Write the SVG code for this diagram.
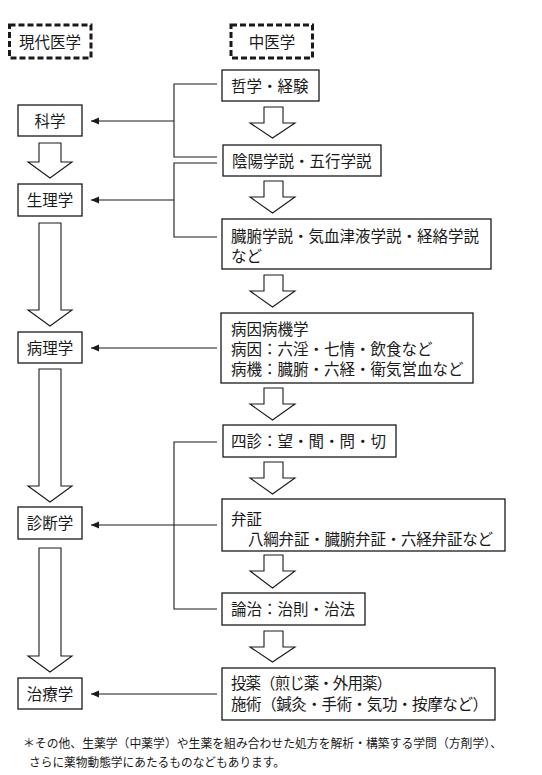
<svg xmlns="http://www.w3.org/2000/svg" width="542" height="775" viewBox="0 0 542 775">
<defs>
<style>
text{font-family:"Noto Sans CJK JP","Noto Sans",sans-serif;font-size:15.5px;fill:#1a1a1a}
.c{text-anchor:middle}
.box{fill:#fff;stroke:#1a1a1a;stroke-width:1.3}
.dash{fill:none;stroke:#1a1a1a;stroke-width:3;stroke-dasharray:6 3}
.ln{fill:none;stroke:#1a1a1a;stroke-width:1.1}
.ha{fill:#fff;stroke:#1a1a1a;stroke-width:1.1;stroke-linejoin:miter}
.fn{font-size:12px}
</style>
<marker id="ah" markerUnits="userSpaceOnUse" markerWidth="9" markerHeight="8" refX="8" refY="3.5" orient="auto">
<path d="M0,0 L8,3.5 L0,7 z" fill="#1a1a1a"/>
</marker>
</defs>
<rect width="542" height="775" fill="#fff"/>

<g id="hdr-modern"><rect class="dash" x="9.5" y="25" width="81.5" height="33"/><text class="c" x="50" y="48">現代医学</text></g>
<g id="hdr-tcm"><rect class="dash" x="231" y="25" width="81.5" height="33"/><text class="c" x="272" y="48">中医学</text></g>

<g id="connectors">
<path class="ln" d="M217,84 H174 V157 H217"/>
<path class="ln" d="M217,163 H174 V237 H217"/>
<path class="ln" d="M217,442 H174 V609 H217"/>
<line class="ln" x1="174" y1="121" x2="91" y2="121" marker-end="url(#ah)"/>
<line class="ln" x1="174" y1="200" x2="91" y2="200" marker-end="url(#ah)"/>
<line class="ln" x1="217" y1="348" x2="91" y2="348" marker-end="url(#ah)"/>
<line class="ln" x1="217" y1="525" x2="91" y2="525" marker-end="url(#ah)"/>
<line class="ln" x1="217" y1="694" x2="91" y2="694" marker-end="url(#ah)"/>
<polygon class="ha" points="39,143 61,143 61,162 72,162 50,178 28,162 39,162"/>
<polygon class="ha" points="39,223 61,223 61,310 72,310 50,326 28,310 39,310"/>
<polygon class="ha" points="39,369 61,369 61,486 72,486 50,502 28,486 39,486"/>
<polygon class="ha" points="39,548 61,548 61,656 72,656 50,672 28,656 39,656"/>
<polygon class="ha" points="264,107 283,107 283,123 295,123 272.5,138 250,123 264,123"/>
<polygon class="ha" points="264,181 283,181 283,197 295,197 272.5,213 250,197 264,197"/>
<polygon class="ha" points="264,275 283,275 283,291 295,291 272.5,307 250,291 264,291"/>
<polygon class="ha" points="264,388 283,388 283,404 295,404 272.5,420 250,404 264,404"/>
<polygon class="ha" points="264,462 283,462 283,478 295,478 272.5,494 250,478 264,478"/>
<polygon class="ha" points="264,555 283,555 283,571 295,571 272.5,588 250,571 264,571"/>
<polygon class="ha" points="264,631 283,631 283,647 295,647 272.5,662 250,647 264,647"/>
</g>

<g id="n-kagaku"><rect class="box" x="18" y="105" width="64" height="31"/><text class="c" x="50" y="126.5">科学</text></g>
<g id="n-seiri"><rect class="box" x="18" y="184" width="64" height="32"/><text class="c" x="50" y="206">生理学</text></g>
<g id="n-byouri"><rect class="box" x="18" y="332" width="64" height="31"/><text class="c" x="50" y="353.5">病理学</text></g>
<g id="n-shindan"><rect class="box" x="18" y="507" width="64" height="32"/><text class="c" x="50" y="529">診断学</text></g>
<g id="n-chiryou"><rect class="box" x="18" y="678" width="64" height="31"/><text class="c" x="50" y="699.5">治療学</text></g>

<g id="n-tetsugaku"><rect class="box" x="222" y="70" width="97" height="31"/><text x="231" y="91.5">哲学・経験</text></g>
<g id="n-inyou"><rect class="box" x="223" y="145" width="158" height="31"/><text x="232" y="166.5">陰陽学説・五行学説</text></g>
<g id="n-zoufu"><rect class="box" x="222" y="219" width="269" height="50"/><text x="231" y="242">臓腑学説・気血津液学説・経絡学説</text><text x="231" y="262">など</text></g>
<g id="n-byouin"><rect class="box" x="221" y="313" width="252" height="70"/><text x="231" y="335">病因病機学</text><text x="231" y="355">病因：六淫・七情・飲食など</text><text x="231" y="375">病機：臓腑・六経・衛気営血など</text></g>
<g id="n-shishin"><rect class="box" x="223" y="425" width="173" height="32"/><text x="231" y="447">四診：望・聞・問・切</text></g>
<g id="n-benshou"><rect class="box" x="222" y="499" width="283" height="52"/><text x="231" y="524.5">弁証</text><text x="248" y="544.5" textLength="245">八綱弁証・臓腑弁証・六経弁証など</text></g>
<g id="n-ronchi"><rect class="box" x="222" y="593" width="143" height="32"/><text x="231" y="615">論治：治則・治法</text></g>
<g id="n-touyaku"><rect class="box" x="222" y="668" width="273" height="52"/><text x="231" y="689" textLength="161">投薬（煎じ薬・外用薬）</text><text x="231" y="710" textLength="257">施術（鍼灸・手術・気功・按摩など）</text></g>

<g id="footnote">
<text class="fn" x="23" y="747.5" textLength="479" lengthAdjust="spacingAndGlyphs">＊その他、生薬学（中薬学）や生薬を組み合わせた処方を解析・構築する学問（方剤学）、</text>
<text class="fn" x="29" y="766.5" textLength="256" lengthAdjust="spacingAndGlyphs">さらに薬物動態学にあたるものなどもあります。</text>
</g>
</svg>
